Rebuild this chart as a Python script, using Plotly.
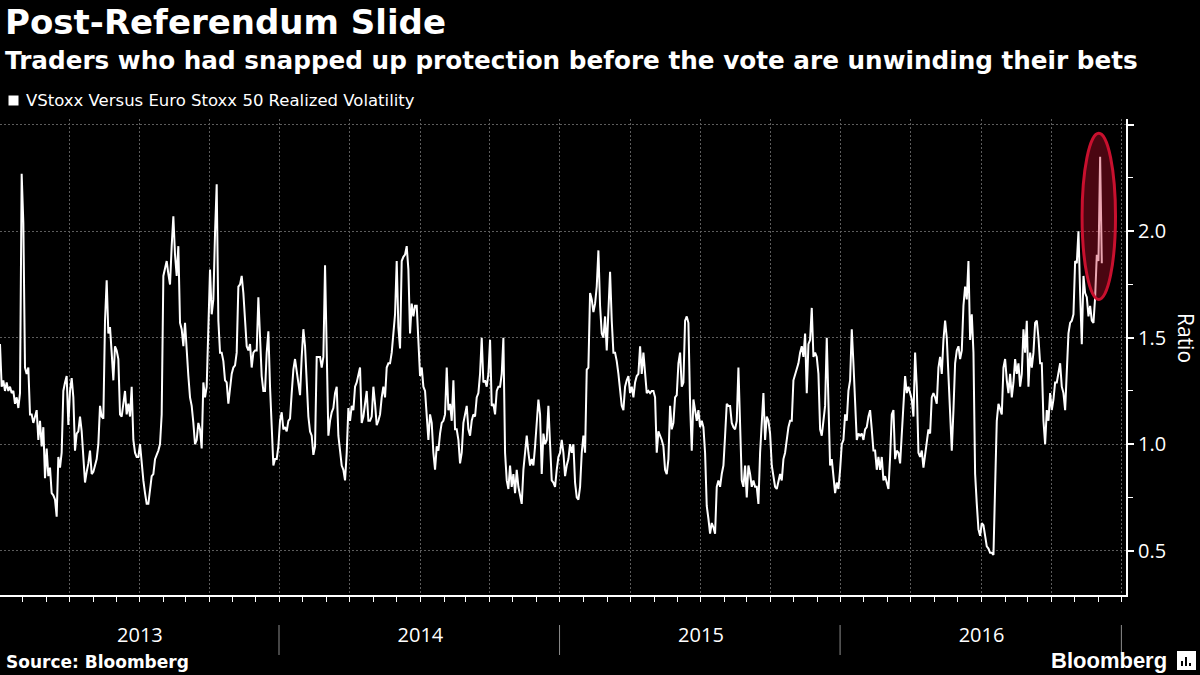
import pandas as pd
import plotly.graph_objects as go

# ---------------- data (ratio) ----------------
seg_a = [1.47,1.27,1.30,1.25,1.29,1.25,1.27,1.24,1.25,1.19,
         1.22,1.17,1.24,2.27,2.04,1.36,1.33,1.36,1.14,1.14,
         1.10,1.13,1.16,1.02,1.11,0.99,1.08,0.84,0.98,0.85,
         0.89,0.77,0.76,0.74,0.66,0.94,0.89,0.96,1.25,1.29,
         1.32,1.09,1.25,1.31,1.22,0.97,1.05,1.06,1.13,1.06,
         0.93,0.82,0.87,0.91,0.97,0.86,0.87,0.90,0.93,1.00,
         1.18,1.13,1.12,1.58,1.77,1.52,1.55,1.43,1.30,1.46,
         1.44,1.40,1.14,1.13,1.19,1.25,1.14,1.19,1.13,1.27,
         1.02,0.96,0.94,0.94,1.00,0.90,0.83,0.77,0.72,0.72,
         0.80,0.85,0.86,0.93,0.95,0.97]
seg_b = [1.00,1.14,1.79,1.82,1.86,1.80,1.75,1.93,2.07,1.89,
         1.79,1.93,1.57,1.54,1.46,1.57,1.43,1.32,1.22,1.18,
         1.10,1.00,1.02,1.10,1.07,0.98,1.29,1.22,1.27,1.58,
         1.82,1.61,1.68,1.99,2.22,1.58,1.43,1.43,1.39,1.30,
         1.29,1.19,1.27,1.33,1.36,1.37,1.43,1.74,1.75,1.79,
         1.71,1.57,1.46,1.44,1.47,1.36,1.43,1.44,1.44,1.69,
         1.48,1.32,1.25,1.25,1.43,1.53,1.27,1.08,0.90,0.93,
         0.93,0.99,1.11,1.15,1.07,1.08,1.06,1.11,1.12,1.24,
         1.35,1.40,1.35,1.29,1.23,1.41,1.54,1.46,1.29,1.13,
         1.06,1.04,0.95,0.99,1.41,1.41]
seg_c = [1.41,1.36,1.41,1.84,1.43,1.04,1.11,1.15,1.17,1.24,
         1.27,1.04,0.97,0.90,0.88,0.83,0.96,1.17,1.11,1.18,
         1.16,1.27,1.29,1.32,1.36,1.10,1.13,1.19,1.25,1.11,
         1.11,1.13,1.27,1.19,1.09,1.11,1.14,1.22,1.27,1.22,
         1.36,1.38,1.38,1.43,1.52,1.61,1.86,1.55,1.45,1.86,
         1.88,1.89,1.93,1.82,1.52,1.66,1.60,1.65,1.65,1.50,
         1.32,1.36,1.27,1.25,1.11,1.02,1.14,1.10,0.96,0.88,
         0.99,0.97,1.05,1.10,1.11,1.14,1.36,1.16,1.19,1.11,
         1.30,1.07,1.07,1.02,0.91,0.96,1.10,1.14,1.18,1.07,
         1.04,1.11,1.14,1.13,1.22,1.24]
seg_d = [1.33,1.50,1.29,1.30,1.27,1.33,1.49,1.18,1.19,1.14,
         1.25,1.27,1.27,1.33,1.50,0.96,0.83,0.79,0.90,0.80,
         0.86,0.77,0.88,0.80,0.75,0.72,0.88,0.97,1.04,0.96,
         0.90,0.93,0.90,0.99,1.10,1.21,1.14,0.86,1.05,1.00,
         1.02,1.18,1.00,0.83,0.82,0.80,0.88,0.94,0.96,1.02,
         0.96,0.85,0.90,0.93,1.00,0.96,1.00,0.82,0.75,0.74,
         0.80,0.96,1.04,0.96,1.35,1.36,1.71,1.68,1.62,1.66,
         1.74,1.91,1.65,1.52,1.50,1.60,1.44,1.65,1.81,1.58,
         1.43,1.43,1.39,1.33,1.25,1.18,1.16,1.27,1.30,1.32,
         1.24,1.27,1.22,1.29,1.32,1.33]
seg_e = [1.46,1.33,1.43,1.33,1.24,1.25,1.24,1.25,1.25,1.22,
         0.96,1.06,1.04,1.02,0.99,0.88,0.86,0.93,1.18,1.07,
         1.10,1.22,1.23,1.38,1.43,1.27,1.29,1.58,1.60,1.57,
         1.19,0.97,1.21,1.16,1.11,1.16,1.08,1.11,1.08,0.96,
         0.71,0.65,0.58,0.63,0.61,0.58,0.80,0.83,0.80,0.86,
         0.90,1.04,1.19,1.18,1.18,1.10,1.08,1.07,1.11,1.36,
         1.04,0.83,0.80,0.90,0.75,0.90,0.86,0.80,0.83,0.80,
         0.80,0.72,0.96,1.11,1.24,1.02,1.13,1.11,1.05,0.90,
         0.85,0.80,0.79,0.83,0.86,0.83,0.93,0.96,1.02,1.08,
         1.11,1.11,1.30,1.33,1.35,1.38]
seg_f = [1.43,1.46,1.41,1.52,1.24,1.47,1.49,1.64,1.41,1.43,
         1.41,1.33,1.07,1.04,1.11,1.18,1.50,1.14,0.90,0.93,
         0.83,0.77,0.82,0.79,0.88,1.00,1.02,1.14,1.11,1.25,
         1.30,1.54,1.38,1.22,1.02,1.05,1.04,1.05,1.02,1.07,
         1.08,1.13,1.16,1.07,0.97,0.97,0.88,0.94,0.88,0.94,
         0.83,0.85,0.82,0.79,0.94,1.14,1.16,0.93,0.97,0.96,
         0.91,1.04,1.21,1.32,1.24,1.27,1.24,1.21,1.13,1.43,
         1.27,0.96,0.94,0.97,0.89,0.96,1.02,1.07,1.05,1.22,
         1.24,1.22,1.19,1.36,1.41,1.33,1.49,1.58,1.50,1.33,
         1.14,0.97,1.16,1.38,1.44,1.46]
seg_g = [1.40,1.44,1.65,1.74,1.68,1.86,1.49,1.61,1.43,0.86,
         0.72,0.60,0.57,0.63,0.62,0.57,0.52,0.51,0.49,0.49,
         0.48,0.80,1.11,1.19,1.16,1.14,1.36,1.40,1.30,1.24,
         1.33,1.22,1.29,1.40,1.33,1.38,1.27,1.33,1.54,1.43,
         1.58,1.27,1.43,1.36,1.43,1.57,1.58,1.50,1.38,1.38,
         1.11,1.00,1.16,1.11,1.24,1.16,1.21,1.29,1.29,1.33,
         1.38,1.27,1.24,1.16,1.33,1.52,1.57,1.58,1.61,1.86,
         1.85,2.00,1.71,1.47,1.79,1.71,1.69,1.60,1.65,1.58,
         1.57,1.69,1.89,1.86,2.35,1.85]

values = seg_a + seg_b + seg_c + seg_d + seg_e + seg_f + seg_g
start_date = pd.Timestamp("2012-07-03")
end_axis = pd.Timestamp("2016-07-07")
sample_step = pd.Timedelta(days=2.1687)
dates = [start_date + i * sample_step for i in range(len(values))]

title = "Post-Referendum Slide"
subtitle = "Traders who had snapped up protection before the vote are unwinding their bets"
series_name = "VStoxx Versus Euro Stoxx 50 Realized Volatility"
y_title = "Ratio"
source = "Source: Bloomberg"
y_tickvals = [0.5, 1.0, 1.5, 2.0, 2.5]
y_ticktext = ["0.5", "1.0", "1.5", "2.0", ""]
y_minor = [0.75, 1.25, 1.75, 2.25]

quarters = pd.date_range("2012-10-01", "2016-07-01", freq="QS")
months = pd.date_range("2012-08-01", "2016-07-01", freq="MS")
x_ticktext = [str(d.year) if d.month == 1 else "" for d in quarters]
separators = pd.date_range("2013-07-01", "2016-07-01", freq="12MS")

# ---------------- layout geometry ----------------
W, H = 1200, 675
L, R, T, B = 0, 74, 119, 80
PW, PH = W - L - R, H - T - B


def px(x):
    return (x - L) / PW


def py(y):
    return (H - B - y) / PH


GRID = "#5c5c5c"
FONT = "Open Sans"
WIDE = "DejaVu Sans"
BOLD = "Liberation Sans"

fig = go.Figure()
fig.add_trace(go.Scatter(x=dates, y=values, mode="lines",
                         line=dict(color="white", width=2),
                         name=series_name, showlegend=False,
                         hoverinfo="x+y"))

shapes = []
for d in separators:
    shapes.append(dict(type="line", xref="x", yref="paper", x0=d, x1=d,
                       y0=py(625), y1=py(655), line=dict(color="#8c8c8c", width=1)))

# highlight ellipse around post-referendum spike
imax = max(range(len(values)), key=lambda i: values[i])
shapes.append(dict(type="circle", xref="x", yref="y", layer="above",
                   x0=dates[imax] - pd.Timedelta(days=23.5),
                   x1=dates[imax] + pd.Timedelta(days=20),
                   y0=1.68, y1=2.46,
                   fillcolor="rgba(200,16,46,0.37)",
                   line=dict(color="#c8102e", width=3)))

# legend square
shapes.append(dict(type="rect", xref="paper", yref="paper",
                   x0=px(8.5), x1=px(18.5), y0=py(105.5), y1=py(95.5),
                   fillcolor="white", line=dict(width=0)))
# Bloomberg icon
shapes.append(dict(type="rect", xref="paper", yref="paper",
                   x0=px(1177), x1=px(1196), y0=py(670), y1=py(651),
                   fillcolor="white", line=dict(width=0)))
for bx, top in [(1182, 661), (1186, 657), (1190, 663)]:
    shapes.append(dict(type="line", xref="paper", yref="paper",
                       x0=px(bx), x1=px(bx), y0=py(666), y1=py(top),
                       line=dict(color="black", width=2)))

annotations = [
    dict(text=f"<b>{title}</b>", x=px(3), y=py(22), xref="paper", yref="paper",
         xanchor="left", yanchor="middle", showarrow=False,
         font=dict(family=WIDE, size=34, color="white")),
    dict(text=f"<b>{subtitle}</b>", x=px(3), y=py(60), xref="paper", yref="paper",
         xanchor="left", yanchor="middle", showarrow=False,
         font=dict(family=WIDE, size=24.7, color="white")),
    dict(text=series_name, x=px(24), y=py(100.5), xref="paper", yref="paper",
         xanchor="left", yanchor="middle", showarrow=False,
         font=dict(family=WIDE, size=16.5, color="white")),
    dict(text=y_title, x=px(1186), y=py(338), xref="paper", yref="paper",
         xanchor="center", yanchor="middle", showarrow=False, textangle=90,
         font=dict(family=FONT, size=21, color="white")),
    dict(text=f"<b>{source}</b>", x=px(4), y=py(662), xref="paper", yref="paper",
         xanchor="left", yanchor="middle", showarrow=False,
         font=dict(family=WIDE, size=17, color="white")),
    dict(text="<b>Bloomberg</b>", x=px(1169), y=py(660), xref="paper", yref="paper",
         xanchor="right", yanchor="middle", showarrow=False,
         font=dict(family=BOLD, size=22, color="white")),
]

fig.update_layout(
    width=W, height=H,
    margin=dict(l=L, r=R, t=T, b=B, autoexpand=False),
    paper_bgcolor="black", plot_bgcolor="black",
    showlegend=False,
    shapes=shapes, annotations=annotations,
    xaxis=dict(type="date", range=[start_date, end_axis], automargin=False,
               tickmode="array", tickvals=list(quarters), ticktext=x_ticktext,
               ticks="outside", ticklen=5, tickwidth=1, tickcolor="white",
               showgrid=True, gridcolor=GRID, griddash="2px,2px", gridwidth=1,
               showline=True, linecolor="white", linewidth=2, zeroline=False,
               ticklabelstandoff=16,
               tickfont=dict(family=FONT, size=20, color="white"),
               minor=dict(tickmode="array", tickvals=list(months), ticks="outside",
                          ticklen=5, tickwidth=1, tickcolor="white", showgrid=False)),
    yaxis=dict(side="right", range=[0.292, 2.527], automargin=False,
               tickmode="array", tickvals=y_tickvals, ticktext=y_ticktext,
               ticks="outside", ticklen=6, tickwidth=2, tickcolor="white",
               showgrid=True, gridcolor=GRID, griddash="2px,2px", gridwidth=1,
               showline=True, linecolor="white", linewidth=2, zeroline=False,
               tickfont=dict(family=FONT, size=20, color="white"),
               minor=dict(tickmode="array", tickvals=y_minor, ticks="outside",
                          ticklen=5, tickwidth=1, tickcolor="white", showgrid=False)),
)

fig.write_html("out.html")
